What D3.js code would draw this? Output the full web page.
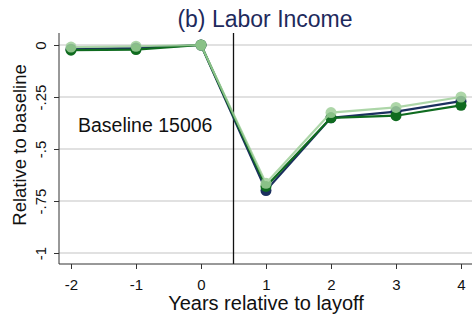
<!DOCTYPE html>
<html>
<head>
<meta charset="utf-8">
<script src="https://cdn.jsdelivr.net/npm/d3@7"></script>
<style>
  body { margin: 0; background: #fff; }
  text { font-family: Arial, "Liberation Sans", sans-serif; }
</style>
</head>
<body>
<svg id="chart"></svg>
<script>
// years relative to layoff
const years = [-2, -1, 0, 1, 2, 3, 4];
const yTicks = [0, -0.25, -0.5, -0.75, -1];
const yTickLabels = ["0", "-.25", "-.5", "-.75", "-1"];

// three series
const navy = [-0.02, -0.015, 0, -0.70, -0.35, -0.32, -0.27];
const darkGreen = [-0.025, -0.022, 0, -0.68, -0.35, -0.34, -0.29];
const lightGreen = [-0.01, -0.006, 0, -0.665, -0.325, -0.30, -0.25];

const width = 472, height = 315;
let margin = {top: 33, right: 0, bottom: 52, left: 59};

let svg = d3.select("#chart")
    .attr("width", width)
    .attr("height", height);

// set the ranges
let x = d3.scaleLinear().domain([-2, 4]).range([71, 461]);
let y = d3.scaleLinear().domain([0, -1]).range([45, 253]);

let plotBottom = height - margin.bottom + 1;

// grid lines
svg.selectAll(".grid")
    .data(yTicks)
    .enter()
    .append("line")
    .attr("x1", margin.left)
    .attr("x2", width)
    .attr("y1", d => y(d))
    .attr("y2", d => y(d))
    .attr("stroke", "#e1e1e1")
    .attr("stroke-width", 1.8);

// layoff line
svg.append("line")
    .attr("x1", x(0.5)).attr("x2", x(0.5))
    .attr("y1", margin.top).attr("y2", plotBottom)
    .attr("stroke", "#111").attr("stroke-width", 1.3);

// y axis
let yAxis = svg.append("g")
    .attr("transform", "translate(" + margin.left + ",0)")
    .call(d3.axisLeft(y).tickValues(yTicks).tickSize(5)
        .tickFormat((d, i) => yTickLabels[i]));
yAxis.select(".domain").attr("d", "M0," + margin.top + "V" + plotBottom).attr("stroke", "#333");
yAxis.selectAll(".tick line").attr("stroke", "#333");
yAxis.selectAll(".tick text")
    .attr("font-size", 15)
    .attr("fill", "#111")
    .attr("text-anchor", "middle")
    .attr("x", 0).attr("dy", 0)
    .attr("transform", "translate(-13,0) rotate(-90)");

// x axis
let xAxis = svg.append("g")
    .attr("transform", "translate(0," + plotBottom + ")")
    .call(d3.axisBottom(x).tickValues(years).tickSize(5).tickFormat(d => String(d)));
xAxis.select(".domain").attr("d", "M" + margin.left + ",0H" + width).attr("stroke", "#333");
xAxis.selectAll(".tick line").attr("stroke", "#333");
xAxis.selectAll(".tick text")
    .attr("font-size", 15)
    .attr("fill", "#111")
    .attr("y", 15)
    .attr("dy", "0.71em");

// series
const series = [
    {values: navy, color: "#1b2f5e", opacity: 1},
    {values: darkGreen, color: "#0f6b1f", opacity: 1},
    {values: lightGreen, color: "#9fd09a", opacity: 0.85}
];

let line = d3.line()
    .x((d, i) => x(years[i]))
    .y(d => y(d));

series.forEach(function(s) {
    let g = svg.append("g").attr("opacity", s.opacity);
    g.append("path")
        .datum(s.values)
        .attr("d", line)
        .attr("fill", "none")
        .attr("stroke", s.color)
        .attr("stroke-width", 2.2);
    g.selectAll("circle")
        .data(s.values)
        .enter()
        .append("circle")
        .attr("cx", (d, i) => x(years[i]))
        .attr("cy", d => y(d))
        .attr("r", 5.5)
        .attr("fill", s.color);
});

// baseline note
svg.append("text")
    .attr("x", 78).attr("y", 132)
    .attr("font-size", 19.5)
    .attr("fill", "#111")
    .text("Baseline 15006");

// title
svg.append("text")
    .attr("x", 265).attr("y", 27)
    .attr("text-anchor", "middle")
    .attr("font-size", 23)
    .attr("fill", "#1e2a5c")
    .text("(b) Labor Income");

// axis titles
svg.append("text")
    .attr("transform", "translate(26,145) rotate(-90)")
    .attr("text-anchor", "middle")
    .attr("font-size", 18.5)
    .attr("fill", "#111")
    .text("Relative to baseline");

svg.append("text")
    .attr("x", 266).attr("y", 310)
    .attr("text-anchor", "middle")
    .attr("font-size", 20)
    .attr("fill", "#111")
    .text("Years relative to layoff");
</script>
</body>
</html>
